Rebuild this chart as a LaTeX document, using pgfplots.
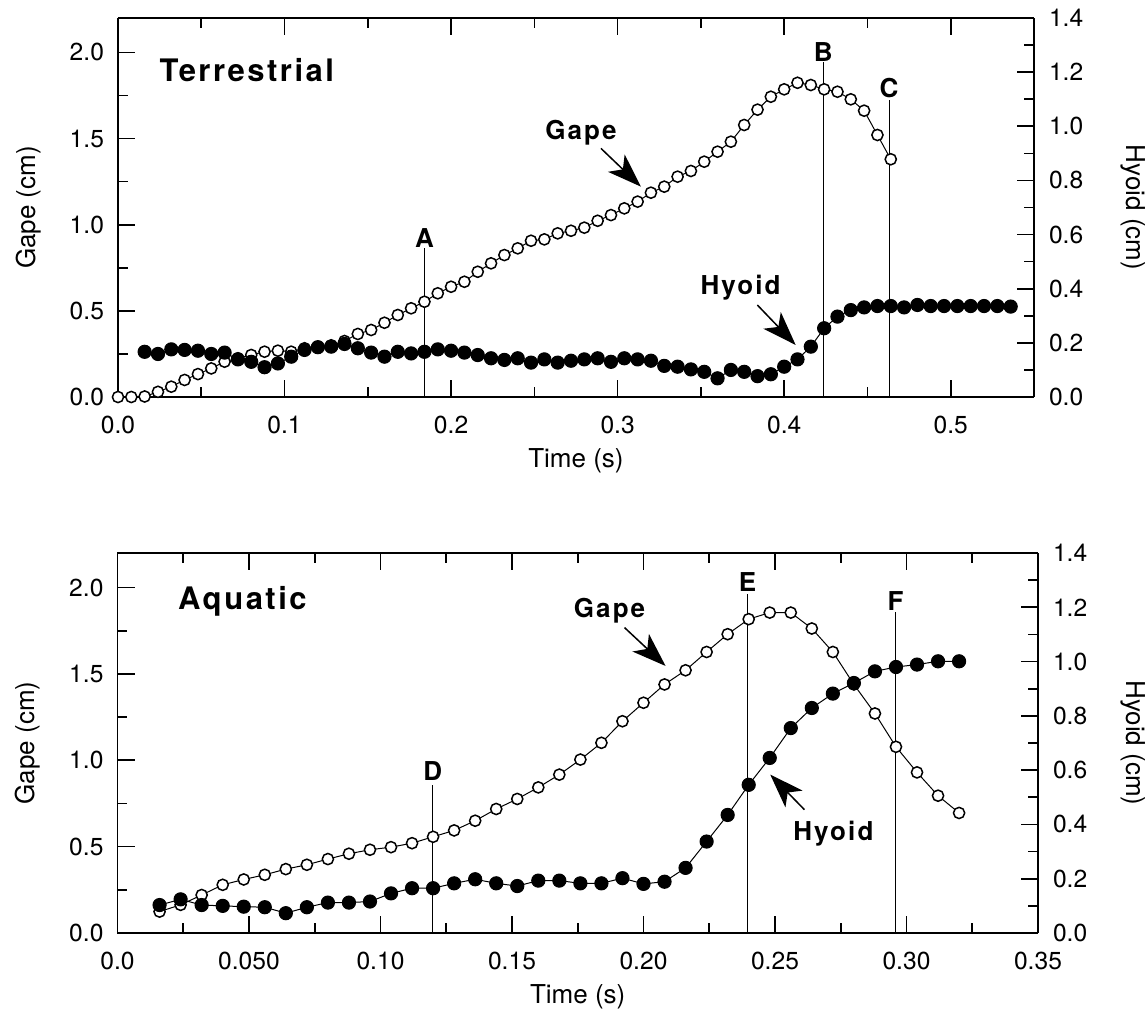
\documentclass[border=0pt]{standalone}
\usepackage{pgfplots}
\pgfplotsset{compat=1.18}
\usepackage{fontspec}
\setmainfont{TeX Gyre Heros}
\newfontfamily\annot[LetterSpace=8]{TeX Gyre Heros}
\usetikzlibrary{arrows.meta}

\newcommand\lblfont{\fontsize{13}{15}\selectfont}
\pgfplotsset{
  panel/.style={
    scale only axis, clip=false,
    axis line style={line width=0.9pt},
    tick style={line width=0.8pt, black},
    tick align=inside,
    major tick length=8.5pt, minor tick length=5pt,
    tick label style={font=\fontsize{12.3}{14}\selectfont},
    xticklabel style={yshift=-6pt},
  },
  gapeax/.style={panel, axis y line*=left,
    yticklabel style={xshift=-3.5pt},
    ymin=0, ymax=2.2,
    ytick={0,0.5,1,1.5,2}, yticklabels={0.0,0.5,1.0,1.5,2.0},
    minor ytick={0.25,0.75,1.25,1.75},
    ylabel={Gape (cm)}, xlabel={Time (s)},
    every axis y label/.style={at={(axis description cs:-0.098,0.5)},rotate=90,anchor=center,font=\lblfont},
  },
  hyoidax/.style={panel, axis y line*=right, axis x line=none,
    yticklabel style={xshift=4pt},
    ymin=0, ymax=1.4,
    ytick={0,0.2,0.4,0.6,0.8,1.0,1.2,1.4},
    yticklabels={0.0,0.2,0.4,0.6,0.8,1.0,1.2,1.4},
    minor ytick={0.1,0.3,0.5,0.7,0.9,1.1,1.3},
    ylabel={Hyoid (cm)},
  },
  gapeplot/.style={black, line width=0.5pt, mark=*, mark size=2.8pt,
    mark options={fill=white, line width=0.75pt}},
  hyoidplot/.style={black, line width=0.5pt, mark=*, mark size=3.3pt,
    mark options={fill=black}},
}
\tikzset{
  tag/.style={font=\annot\bfseries\fontsize{13}{15}\selectfont},
  ttl/.style={font=\annot\bfseries\fontsize{15.5}{18}\selectfont},
  arr/.style={line width=0.75pt, -{Stealth[length=17pt,width=12pt,inset=4.5pt]}},
}

\begin{document}
\begin{tikzpicture}[x=1pt,y=1pt]
\useasboundingbox (-59pt,-308.5pt) rectangle (515pt,198.5pt);

% ---------- Terrestrial ----------
\begin{axis}[gapeax, name=g1, at={(0pt,0pt)}, width=458pt, height=189.5pt,
  xmin=0, xmax=0.55,
  xtick={0,0.1,0.2,0.3,0.4,0.5}, xticklabels={0.0,0.1,0.2,0.3,0.4,0.5},
  minor xtick={0.05,0.15,0.25,0.35,0.45},
  every axis x label/.style={at={(axis description cs:0.5,-0.169)},anchor=center,font=\lblfont}]
\addplot[gapeplot] table {
t g
0.000 0.000
0.008 0.000
0.016 0.003
0.024 0.030
0.032 0.060
0.040 0.099
0.048 0.133
0.056 0.166
0.064 0.205
0.072 0.225
0.080 0.244
0.088 0.263
0.096 0.269
0.104 0.263
0.112 0.283
0.120 0.290
0.128 0.300
0.136 0.325
0.144 0.366
0.152 0.389
0.160 0.431
0.168 0.476
0.176 0.515
0.184 0.553
0.192 0.602
0.200 0.640
0.208 0.669
0.216 0.727
0.224 0.776
0.232 0.824
0.240 0.863
0.248 0.907
0.256 0.915
0.264 0.950
0.272 0.965
0.280 0.983
0.288 1.023
0.296 1.056
0.304 1.095
0.312 1.134
0.320 1.186
0.328 1.221
0.336 1.279
0.344 1.312
0.352 1.366
0.360 1.424
0.368 1.482
0.376 1.579
0.384 1.668
0.392 1.743
0.400 1.786
0.408 1.824
0.416 1.811
0.424 1.786
0.432 1.772
0.440 1.728
0.448 1.662
0.456 1.521
0.464 1.380
};
\draw[line width=0.5pt] (axis cs:0.184,0) -- (axis cs:0.184,0.865);
\draw[line width=0.5pt] (axis cs:0.4235,0) -- (axis cs:0.4235,1.945);
\draw[line width=0.5pt] (axis cs:0.463,0) -- (axis cs:0.463,1.724);
\node[tag] at (axis cs:0.184,0.925) {A};
\node[tag] at (axis cs:0.4235,2.002) {B};
\node[tag] at (axis cs:0.463,1.793) {C};
\node[ttl] at (axis cs:0.0773,1.898) {Terrestrial};
\node[tag] at (axis cs:0.278,1.534) {Gape};
\draw[arr] (axis cs:0.290,1.443) -- (axis cs:0.314,1.221);
\node[tag] at (axis cs:0.3738,0.633) {Hyoid};
\draw[arr] (axis cs:0.3839,0.534) -- (axis cs:0.4069,0.302);
\end{axis}

\begin{axis}[hyoidax, at={(0pt,0pt)}, width=458pt, height=189.5pt,
  xmin=0, xmax=0.55,
  every axis y label/.style={at={(axis description cs:1.108,0.5)},rotate=-90,anchor=center,font=\lblfont}]
\addplot[hyoidplot] table {
t h
0.016 0.167
0.024 0.159
0.032 0.176
0.040 0.174
0.048 0.171
0.056 0.159
0.064 0.164
0.072 0.139
0.080 0.130
0.088 0.110
0.096 0.124
0.104 0.149
0.112 0.174
0.120 0.184
0.128 0.186
0.136 0.196
0.144 0.180
0.152 0.164
0.160 0.149
0.168 0.167
0.176 0.161
0.184 0.167
0.192 0.176
0.200 0.171
0.208 0.164
0.216 0.155
0.224 0.143
0.232 0.137
0.240 0.143
0.248 0.127
0.256 0.139
0.264 0.127
0.272 0.134
0.280 0.139
0.288 0.143
0.296 0.130
0.304 0.143
0.312 0.139
0.320 0.134
0.328 0.115
0.336 0.112
0.344 0.102
0.352 0.093
0.360 0.069
0.368 0.100
0.376 0.093
0.384 0.077
0.392 0.084
0.400 0.112
0.408 0.139
0.416 0.186
0.424 0.254
0.432 0.297
0.440 0.321
0.448 0.331
0.456 0.336
0.464 0.336
0.472 0.331
0.480 0.340
0.488 0.336
0.496 0.336
0.504 0.336
0.512 0.336
0.520 0.336
0.528 0.336
0.536 0.334
};
\end{axis}

% ---------- Aquatic ----------
\begin{axis}[gapeax, name=g2, at={(-0.25pt,-268pt)}, width=460.25pt, height=190pt,
  xmin=0, xmax=0.35,
  xtick={0,0.05,0.1,0.15,0.2,0.25,0.3,0.35},
  xticklabels={0.0,0.050,0.10,0.15,0.20,0.25,0.30,0.35},
  minor xtick={0.025,0.075,0.125,0.175,0.225,0.275,0.325},
  every axis x label/.style={at={(axis description cs:0.5,-0.168)},anchor=center,font=\lblfont}]
\addplot[gapeplot] table {
t g
0.016 0.124
0.024 0.163
0.032 0.220
0.040 0.279
0.048 0.310
0.056 0.337
0.064 0.370
0.072 0.395
0.080 0.428
0.088 0.459
0.096 0.482
0.104 0.497
0.112 0.520
0.120 0.557
0.128 0.594
0.136 0.650
0.144 0.718
0.152 0.776
0.160 0.843
0.168 0.917
0.176 1.004
0.184 1.101
0.192 1.226
0.200 1.333
0.208 1.439
0.216 1.521
0.224 1.627
0.232 1.730
0.240 1.817
0.248 1.855
0.256 1.855
0.264 1.763
0.272 1.627
0.280 1.439
0.288 1.271
0.296 1.078
0.304 0.930
0.312 0.795
0.320 0.695
};
\draw[line width=0.5pt] (axis cs:0.1199,0) -- (axis cs:0.1199,0.859);
\draw[line width=0.5pt] (axis cs:0.2396,0) -- (axis cs:0.2396,1.962);
\draw[line width=0.5pt] (axis cs:0.2958,0) -- (axis cs:0.2958,1.857);
\node[tag] at (axis cs:0.1199,0.936) {D};
\node[tag] at (axis cs:0.2396,2.03) {E};
\node[tag] at (axis cs:0.2958,1.923) {F};
\node[ttl] at (axis cs:0.0475,1.923) {Aquatic};
\node[tag] at (axis cs:0.1871,1.865) {Gape};
\draw[arr] (axis cs:0.1928,1.768) -- (axis cs:0.2084,1.546);
\node[tag] at (axis cs:0.2722,0.578) {Hyoid};
\draw[arr] (axis cs:0.2612,0.714) -- (axis cs:0.2482,0.917);
\end{axis}

\begin{axis}[hyoidax, at={(g2.south west)}, width=460.25pt, height=190pt,
  xmin=0, xmax=0.35,
  every axis y label/.style={at={(axis description cs:1.103,0.5)},rotate=-90,anchor=center,font=\lblfont}]
\addplot[hyoidplot] table {
t h
0.016 0.103
0.024 0.124
0.032 0.103
0.040 0.100
0.048 0.097
0.056 0.095
0.064 0.073
0.072 0.095
0.080 0.112
0.088 0.112
0.096 0.116
0.104 0.146
0.112 0.165
0.120 0.165
0.128 0.183
0.136 0.198
0.144 0.183
0.152 0.173
0.160 0.193
0.168 0.193
0.176 0.183
0.184 0.183
0.192 0.202
0.200 0.181
0.208 0.189
0.216 0.240
0.224 0.337
0.232 0.435
0.240 0.546
0.248 0.645
0.256 0.755
0.264 0.829
0.272 0.882
0.280 0.921
0.288 0.964
0.296 0.980
0.304 0.989
0.312 1.001
0.320 1.001
};
\end{axis}
\end{tikzpicture}
\end{document}
